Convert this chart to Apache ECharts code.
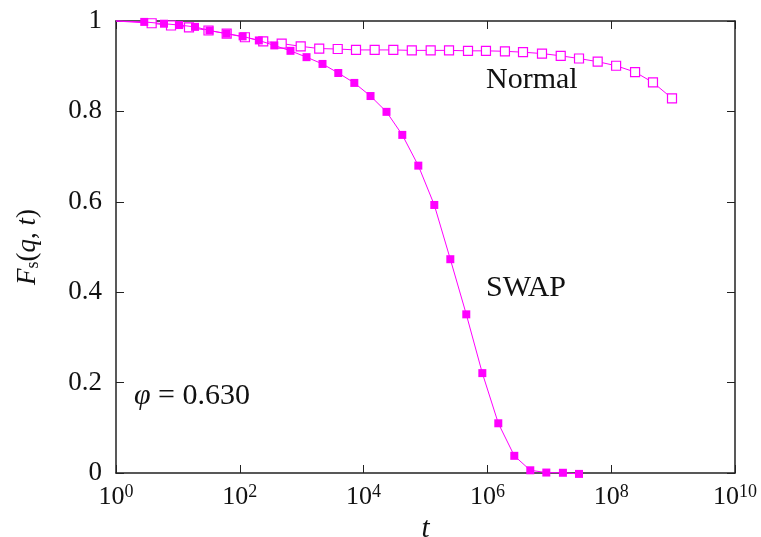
<!DOCTYPE html>
<html>
<head>
<meta charset="utf-8">
<script src="https://cdn.jsdelivr.net/npm/echarts@6/dist/echarts.min.js"></script>
<style>html,body{margin:0;padding:0;background:#fff}#c{width:761px;height:537px}</style>
</head>
<body>
<div id="c"></div>
<script>
// Normal (open squares)
const normalT = [1, 3.77, 7.74, 15.1, 31.2, 61.4, 121, 239, 475, 964, 1919, 3819, 7540, 15100, 30200, 60100, 121300, 239900, 486000, 948000, 1.92e6, 3.76e6, 7.62e6, 1.53e7, 3.02e7, 6.05e7, 1.20e8, 2.43e8, 4.73e8, 9.60e8];
const normalF = [1.0, 0.995, 0.990, 0.986, 0.979, 0.972, 0.964, 0.955, 0.950, 0.944, 0.939, 0.938, 0.936, 0.936, 0.936, 0.935, 0.935, 0.935, 0.934, 0.934, 0.933, 0.931, 0.928, 0.923, 0.917, 0.910, 0.901, 0.887, 0.864, 0.829];
// SWAP (filled squares)
const swapT = [1, 2.86, 5.96, 10.5, 18.9, 32.4, 61.0, 111, 203, 361, 659, 1197, 2168, 3899, 7079, 12940, 23440, 42170, 76560, 138700, 251800, 456000, 828000, 1.50e6, 2.72e6, 4.93e6, 8.95e6, 1.66e7, 3.02e7];
const swapF = [1.0, 0.998, 0.994, 0.991, 0.987, 0.979, 0.972, 0.966, 0.957, 0.946, 0.934, 0.920, 0.905, 0.885, 0.863, 0.834, 0.799, 0.748, 0.680, 0.593, 0.473, 0.351, 0.221, 0.110, 0.038, 0.006, 0.001, 0.0005, -0.002];
const yTicks = [0, 0.2, 0.4, 0.6, 0.8, 1];
const labels = { normal: 'Normal', swap: 'SWAP', phi: '0.630' };

const MAG = '#ff00ff';
const FONT = 'Liberation Serif';

function pairs(ts, fs) {
  return ts.map((t, i) => i === 0 ? { value: [t, fs[i]], symbol: 'none' } : [t, fs[i]]);
}

const xLabelRich = {
  b: { fontFamily: FONT, fontSize: 26, color: '#111' },
  s: { fontFamily: FONT, fontSize: 18, color: '#111', verticalAlign: 'top', padding: [0, 0, 10, 0] }
};

const baseX = {
  type: 'log', logBase: 10, min: 1, max: 1e10, interval: 2,
  axisLine: { show: true, onZero: false, lineStyle: { color: '#222', width: 1.5 } },
  axisTick: { show: true, inside: true, length: 8, lineStyle: { color: '#222', width: 1 } },
  minorTick: { show: false },
  splitLine: { show: false }
};
const baseY = {
  type: 'value', min: 0, max: 1, interval: 0.2,
  axisLine: { show: true, onZero: false, lineStyle: { color: '#222', width: 1.5 } },
  axisTick: { show: true, inside: true, length: 8, lineStyle: { color: '#222', width: 1 } },
  splitLine: { show: false }
};

const chart = echarts.init(document.getElementById('c'), null, { renderer: 'canvas' });
chart.setOption({
  animation: false,
  backgroundColor: '#fff',
  grid: { left: 116, right: 26, top: 21, bottom: 64, containLabel: false, outerBoundsMode: 'none' },
  xAxis: [
    Object.assign({}, baseX, {
      position: 'bottom',
      name: 't', nameLocation: 'middle', nameGap: 34,
      nameTextStyle: { fontFamily: FONT, fontStyle: 'italic', fontSize: 29, color: '#111' },
      axisLabel: {
        margin: 10,
        formatter: function (v) { const e = Math.round(Math.log10(v)); return '{b|10}{s|' + e + '}'; },
        rich: xLabelRich
      }
    }),
    Object.assign({}, baseX, { position: 'top', axisLabel: { show: false } })
  ],
  yAxis: [
    Object.assign({}, baseY, {
      position: 'left',
      name: '{i|F}{sub|s}{n|(}{i|q}{n|, }{i|t}{n|)}', nameLocation: 'middle', nameGap: 74, nameRotate: 90,
      nameTextStyle: {
        rich: {
          i: { fontFamily: FONT, fontStyle: 'italic', fontSize: 27, color: '#111' },
          n: { fontFamily: FONT, fontSize: 27, color: '#111' },
          sub: { fontFamily: FONT, fontSize: 18, color: '#111', verticalAlign: 'bottom', padding: [10, 0, 0, 0] }
        }
      },
      axisLabel: {
        margin: 14, fontFamily: FONT, fontSize: 27, color: '#111',
        formatter: function (v) { return (v === 0 || v === 1) ? String(v) : v.toFixed(1); }
      }
    }),
    Object.assign({}, baseY, { position: 'right', axisLabel: { show: false } })
  ],
  series: [
    {
      name: 'Normal', type: 'line', xAxisIndex: 0, yAxisIndex: 0,
      data: pairs(normalT, normalF),
      symbol: 'rect', symbolSize: 9, clip: false,
      itemStyle: { color: '#fff', borderColor: MAG, borderWidth: 1.2 },
      lineStyle: { color: MAG, width: 1 },
      z: 3
    },
    {
      name: 'SWAP', type: 'line', xAxisIndex: 0, yAxisIndex: 0,
      data: pairs(swapT, swapF),
      symbol: 'rect', symbolSize: 8, clip: false,
      itemStyle: { color: MAG, borderWidth: 0 },
      lineStyle: { color: MAG, width: 1 },
      z: 4
    }
  ],
  graphic: [
    { type: 'text', left: 486, top: 65, style: { text: labels.normal, font: '30px "' + FONT + '"', fill: '#111' } },
    { type: 'text', left: 486, top: 273, style: { text: labels.swap, font: '30px "' + FONT + '"', fill: '#111' } },
    { type: 'text', left: 134, top: 381, style: {
        text: '{g|φ}{n| = ' + labels.phi + '}',
        rich: {
          g: { fontFamily: FONT, fontStyle: 'italic', fontSize: 30, fill: '#111' },
          n: { fontFamily: FONT, fontSize: 30, fill: '#111' }
        }
      } }
  ]
});
</script>
</body>
</html>
